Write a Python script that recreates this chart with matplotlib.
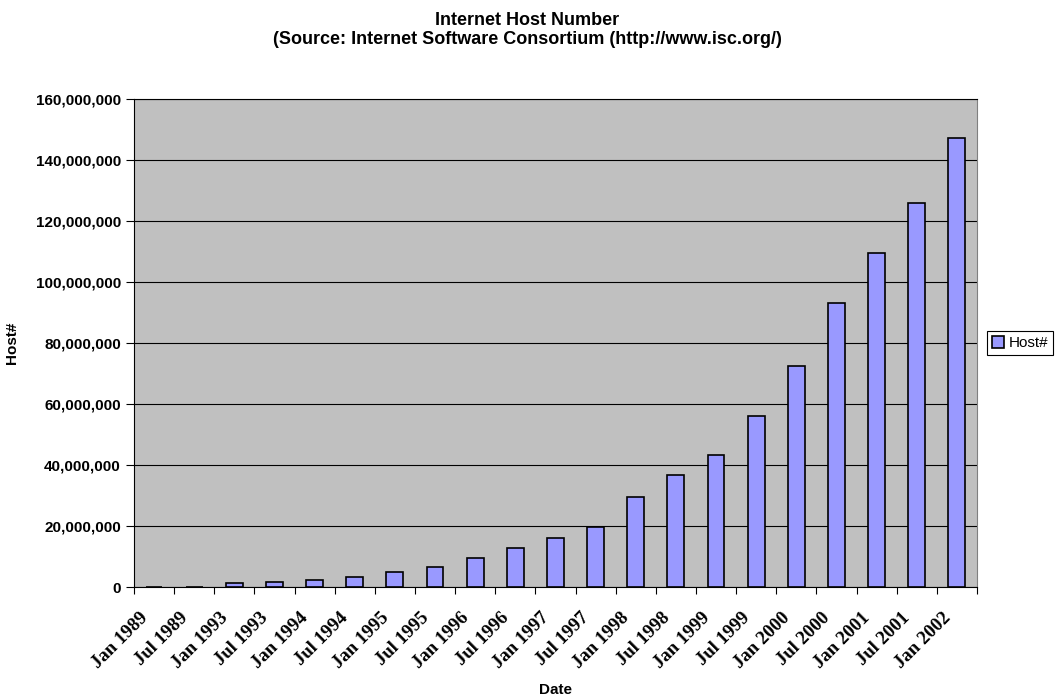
import numpy as np
import matplotlib.pyplot as plt
import matplotlib.transforms as mtransforms
from matplotlib.ticker import FuncFormatter, FixedLocator

dates = ['Jan 1989', 'Jul 1989', 'Jan 1993', 'Jul 1993', 'Jan 1994', 'Jul 1994',
         'Jan 1995', 'Jul 1995', 'Jan 1996', 'Jul 1996', 'Jan 1997', 'Jul 1997',
         'Jan 1998', 'Jul 1998', 'Jan 1999', 'Jul 1999', 'Jan 2000', 'Jul 2000',
         'Jan 2001', 'Jul 2001', 'Jan 2002']
hosts = [80000, 130000, 1313000, 1776000, 2217000, 3212000,
         4852000, 6642000, 9472000, 12881000, 16146000, 19540000,
         29670000, 36739000, 43230000, 56218000, 72398000, 93047000,
         109574000, 125888000, 147345000]

plt.rcParams['font.family'] = ['Liberation Sans', 'DejaVu Sans']

fig = plt.figure(figsize=(10.55, 6.98), dpi=100)
ax = fig.add_axes([0.127, 0.159, 0.799, 0.699])
ax.set_facecolor('#C0C0C0')

x = np.arange(len(dates))
ax.bar(x, hosts, width=0.42, color='#9999FF', edgecolor='black', linewidth=1.2,
       label='Host#', zorder=3)

ax.set_xlim(-0.5, len(dates) - 0.5)
ax.set_ylim(0, 160000000)
ax.set_yticks(np.arange(0, 160000001, 20000000))
ax.yaxis.set_major_formatter(FuncFormatter(lambda v, p: f'{int(v):,}'))
ax.grid(axis='y', color='black', linewidth=0.8, zorder=1)

# ticks between categories, labels at category centres
ax.xaxis.set_major_locator(FixedLocator(np.arange(-0.5, len(dates), 1.0)))
ax.xaxis.set_major_formatter(FuncFormatter(lambda v, p: ''))
ax.xaxis.set_minor_locator(FixedLocator(x))
ax.set_xticklabels(dates, minor=True, rotation=45, ha='right', rotation_mode='anchor',
                   fontfamily='Liberation Serif', fontweight='bold', fontsize=13.5)
ax.tick_params(axis='x', which='minor', length=0, pad=16)
ax.tick_params(axis='x', which='major', length=5, direction='out', color='black')
ax.tick_params(axis='y', length=6, direction='out', labelsize=11)
for lab in ax.get_yticklabels():
    lab.set_fontweight('bold')
shift = mtransforms.ScaledTranslation(-15 / 100, 0, fig.dpi_scale_trans)
for lab in ax.get_xticklabels(minor=True):
    lab.set_transform(lab.get_transform() + shift)

for s in ['left', 'bottom', 'top']:
    ax.spines[s].set_color('black')
ax.spines['right'].set_color('#808080')

ax.set_xlabel('Date', fontsize=11, fontweight='bold')
ax.xaxis.set_label_coords(0.5, -0.197)
ax.set_ylabel('Host#', fontsize=11, fontweight='bold', labelpad=12)
fig.suptitle('Internet Host Number\n(Source: Internet Software Consortium (http://www.isc.org/)',
             fontsize=13, fontweight='bold', y=0.983)

leg = ax.legend(loc='center left', bbox_to_anchor=(1.012, 0.5), fontsize=11,
                frameon=True, fancybox=False, edgecolor='black', framealpha=1,
                handlelength=0.8, handleheight=0.8, handletextpad=0.3,
                borderpad=0.3, borderaxespad=0)
leg.get_frame().set_linewidth(0.8)

fig.savefig('out.png', dpi=100)
